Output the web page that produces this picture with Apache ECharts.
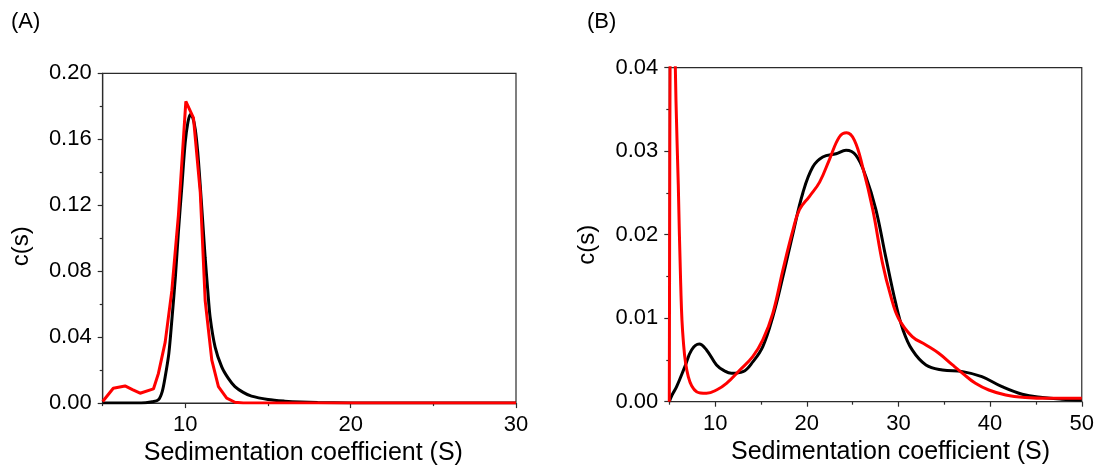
<!DOCTYPE html>
<html><head><meta charset="utf-8">
<script src="https://cdn.jsdelivr.net/npm/echarts@6/dist/echarts.min.js"></script>
<style>html,body{margin:0;padding:0;background:#fff}#c{width:1097px;height:471px}</style>
</head><body><div id="c"></div>
<script>
// Panel A data
const sA_black = [5, 7, 7.6, 8.0, 8.37, 8.6, 8.78, 9.0, 9.18, 9.4, 9.58, 9.8, 9.99, 10.15, 10.3, 10.45, 10.6, 10.75, 10.9, 11.05, 11.2, 11.35, 11.5, 11.8, 12.2, 12.6, 13.0, 13.5, 14, 15, 16, 17, 18, 20, 22, 25, 30];
const cA_black = [0, 0, 0.0002, 0.0008, 0.002, 0.007, 0.016, 0.03, 0.05, 0.077, 0.104, 0.133, 0.158, 0.17, 0.175, 0.173, 0.166, 0.152, 0.132, 0.11, 0.088, 0.069, 0.052, 0.034, 0.022, 0.015, 0.010, 0.0065, 0.0042, 0.0022, 0.0012, 0.0006, 0.0003, 0.0001, 0, 0, 0];
const sA_red = [5.0, 5.64, 6.35, 6.8, 7.26, 8.07, 8.37, 8.78, 9.18, 9.58, 10.03, 10.49, 10.9, 11.2, 11.6, 12.0, 12.5, 13.0, 13.5, 20, 30];
const cA_red = [0.001, 0.009, 0.0104, 0.0082, 0.006, 0.0086, 0.018, 0.037, 0.068, 0.114, 0.183, 0.173, 0.128, 0.062, 0.026, 0.010, 0.003, 0.0005, 0, 0, 0];

// Panel B data
const sB_black = [5.0, 5.3, 5.8, 6.7, 7.43, 8.26, 9.06, 10.15, 11.0, 11.78, 13.04, 14.13, 15.2, 16.3, 17.4, 18.5, 19.57, 20.65, 21.74, 23.2, 24.28, 25.37, 26.46, 27.54, 28.6, 29.7, 30.5, 31.5, 33.0, 34.8, 37.0, 39.1, 41.3, 43.5, 45.7, 47.8, 50];
const cB_black = [0.0, 0.0008, 0.0018, 0.0042, 0.0062, 0.0069, 0.0062, 0.0044, 0.0037, 0.0034, 0.0036, 0.0048, 0.0066, 0.0102, 0.015, 0.0202, 0.025, 0.0281, 0.0293, 0.0297, 0.0301, 0.0295, 0.0269, 0.023, 0.0174, 0.0118, 0.0086, 0.0062, 0.0044, 0.0038, 0.0036, 0.003, 0.0018, 0.0009, 0.0005, 0.0003, 0.0002];
const sB_red = [5.0, 5.1, 5.3, 5.55, 5.73, 5.98, 6.24, 6.52, 7.07, 7.98, 9.06, 10.15, 11.24, 12.7, 14.1, 15.2, 16.3, 17.4, 18.5, 19.2, 20.3, 21.4, 22.47, 23.55, 24.35, 25.2, 26.1, 27.2, 28.26, 29.2, 30.0, 31.5, 33.0, 34.4, 35.9, 37.0, 38.4, 39.86, 41.7, 43.85, 46.4, 50];
const cB_red = [0, 0.045, 0.08, 0.048, 0.036, 0.026, 0.0142, 0.0074, 0.003, 0.0012, 0.001, 0.0014, 0.0022, 0.0038, 0.0054, 0.0074, 0.0106, 0.0158, 0.0206, 0.023, 0.0246, 0.0263, 0.029, 0.0317, 0.0322, 0.0313, 0.0281, 0.023, 0.0166, 0.0125, 0.0100, 0.0078, 0.0068, 0.0058, 0.0044, 0.0034, 0.0022, 0.0014, 0.0008, 0.0005, 0.0004, 0.0004];

// Tick values
const xTicksA = [10, 20, 30];
const xMinorA = [5, 15, 25];
const xTicksB = [10, 20, 30, 40, 50];
const xMinorB = [5, 15, 25, 35, 45];

function pairs(x, y) { return x.map((v, i) => [v, y[i]]); }
const FONT = '"Liberation Sans", Arial, sans-serif';
const AX = '#2b2b2b';
const XNAME = 'Sedimentation coefficient (S)';

function xMain(gi, min, max, ticks, namePad) {
  return {
    type: 'value', gridIndex: gi, min: min, max: max, position: 'bottom',
    axisLine: { show: true, onZero: false, lineStyle: { color: AX, width: 1.2 } },
    axisTick: { show: true, inside: false, length: 5, customValues: ticks, lineStyle: { color: AX, width: 1.2 } },
    axisLabel: { show: true, customValues: ticks, margin: 11, fontSize: 22, color: '#000', fontFamily: FONT },
    splitLine: { show: false },
    name: XNAME, nameLocation: 'middle', nameGap: 37,
    nameTextStyle: { fontSize: 25, color: '#000', fontFamily: FONT, padding: namePad }
  };
}
function xMinor(gi, min, max, ticks) {
  return {
    type: 'value', gridIndex: gi, min: min, max: max, position: 'bottom',
    axisLine: { show: false, onZero: false },
    axisTick: { show: true, inside: false, length: 3, customValues: ticks, lineStyle: { color: AX, width: 1.2 } },
    axisLabel: { show: false },
    splitLine: { show: false }
  };
}
function yAx(gi, max, interval, gap, namePad) {
  return {
    type: 'value', gridIndex: gi, min: 0, max: max, interval: interval,
    axisLine: { show: true, onZero: false, lineStyle: { color: AX, width: 1.2 } },
    axisTick: { show: true, inside: false, length: 5, lineStyle: { color: AX, width: 1.2 } },
    minorTick: { show: true, splitNumber: 2, length: 3, lineStyle: { color: AX, width: 1.2 } },
    axisLabel: { margin: 11, fontSize: 22, color: '#000', fontFamily: FONT, formatter: v => v.toFixed(2) },
    splitLine: { show: false },
    name: 'c(s)', nameLocation: 'middle', nameGap: gap,
    nameTextStyle: { fontSize: 24, color: '#000', fontFamily: FONT, padding: namePad }
  };
}
function line(xi, yi, data, color, smooth) {
  return {
    type: 'line', xAxisIndex: xi, yAxisIndex: yi, data: data, showSymbol: false,
    smooth: smooth, clip: true,
    lineStyle: { color: color, width: 3 }, itemStyle: { color: color }
  };
}

const chart = echarts.init(document.getElementById('c'), null, { renderer: 'canvas' });
chart.setOption({
  animation: false,
  backgroundColor: '#fff',
  title: [
    { text: '(A)', left: 6, top: 6, textStyle: { fontSize: 22, fontWeight: 'normal', color: '#000', fontFamily: FONT } },
    { text: '(B)', left: 582, top: 6, textStyle: { fontSize: 22, fontWeight: 'normal', color: '#000', fontFamily: FONT } }
  ],
  grid: [
    { left: 102.7, top: 73.3, width: 413.3, height: 333.4, show: true, borderColor: AX, borderWidth: 1.2, containLabel: false },
    { left: 669.3, top: 67.7, width: 414, height: 334, show: true, borderColor: AX, borderWidth: 1.2, containLabel: false }
  ],
  xAxis: [
    xMain(0, 5, 30, xTicksA, [0, 12, 0, 0]),
    xMinor(0, 5, 30, xMinorA),
    xMain(1, 5, 50, xTicksB, [0, 0, 0, 30]),
    xMinor(1, 5, 50, xMinorB)
  ],
  yAxis: [
    yAx(0, 0.2, 0.04, 69, [0, 16, 0, 0]),
    yAx(1, 0.04, 0.01, 70, [0, 20, 0, 0])
  ],
  series: [
    line(0, 0, pairs(sA_black, cA_black), '#000000', 0.3),
    line(0, 0, pairs(sA_red, cA_red), '#ff0000', false),
    line(2, 1, pairs(sB_black, cB_black), '#000000', 0.4),
    line(2, 1, pairs(sB_red, cB_red), '#ff0000', 0.4)
  ]
});
</script></body></html>
